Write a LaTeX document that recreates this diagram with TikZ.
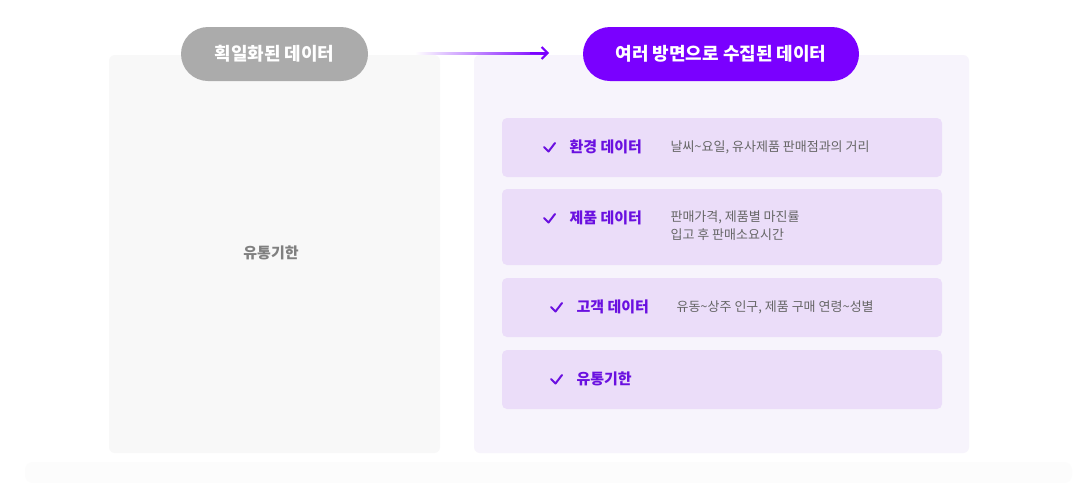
\documentclass[tikz,border=0pt]{standalone}
\usepackage{fontspec}
\setmainfont{Noto Sans CJK KR}
\definecolor{vio}{HTML}{7A00FF}
\definecolor{vtxt}{HTML}{6A10E0}
\definecolor{rowbg}{HTML}{EBDDF9}
\definecolor{lpan}{HTML}{F8F8F8}
\definecolor{rpan}{HTML}{F7F4FC}
\definecolor{gpill}{HTML}{ABABAB}
\definecolor{dtxt}{HTML}{666666}
\usetikzlibrary{arrows.meta}
\tikzset{
 panel/.style={rounded corners=6pt},
 pill/.style={rounded corners=27pt},
 row/.style={fill=rowbg,rounded corners=5pt},
 ttl/.style={anchor=west,text=vtxt,font=\fontsize{15}{18}\selectfont\bfseries},
 dsc/.style={anchor=west,text=dtxt,font=\fontsize{13}{18}\selectfont,align=left},
 chk/.style={draw=vtxt,line width=2pt,line cap=round,line join=round}
}
\begin{document}
\begin{tikzpicture}[x=1pt,y=-1pt]
\useasboundingbox (0,0) rectangle (1079,483);
\fill[white] (0,0) rectangle (1079,483);
\fill[black!1.2,rounded corners=8pt] (25,462) rectangle (1072,483);
\fill[lpan,panel] (109,55) rectangle (440,453);
\fill[rpan,panel] (474,55) rectangle (969,453);
\node[text=gray,font=\fontsize{15}{18}\selectfont\bfseries] (lt) at (271,253) {유통기한};
\node[fill=gpill,pill,minimum width=187pt,minimum height=54pt,text=white,font=\fontsize{18}{20}\selectfont\bfseries] (g) at (274.5,54) {획일화된 데이터};
\node[fill=vio,pill,minimum width=276pt,minimum height=54pt,text=white,font=\fontsize{18}{20}\selectfont\bfseries] (p) at (721,54) {여러 방면으로 수집된 데이터};
\coordinate (a0) at (415,53);
\coordinate (a1) at (549,53);
\shade[left color=white,right color=vio] (415,52) rectangle (545,54.5);
\draw[vio,line width=2pt,-{Straight Barb[length=6pt,width=12pt]}] (530,53) -- (a1);
% rows
\fill[row] (502,118) rectangle (942,177);
\fill[row] (502,189) rectangle (942,265);
\fill[row] (502,278) rectangle (942,337);
\fill[row] (502,350) rectangle (942,409);
\draw[chk] (544,147) -- (548.5,151.5) -- (555,143);
\node[ttl] (t1) at (566,147) {환경 데이터};
\node[dsc] (d1) at (667,147) {날씨\textasciitilde 요일, 유사제품 판매점과의 거리};
\draw[chk] (544,218) -- (548.5,222.5) -- (555,214);
\node[ttl] (t2) at (566,218) {제품 데이터};
\node[dsc] (d2) at (667,226) {판매가격, 제품별 마진률\\입고 후 판매소요시간};
\draw[chk] (551,307) -- (555.5,311.5) -- (562,303);
\node[ttl] (t3) at (573,307) {고객 데이터};
\node[dsc] (d3) at (673,307) {유동\textasciitilde 상주 인구, 제품 구매 연령\textasciitilde 성별};
\draw[chk] (551,379) -- (555.5,383.5) -- (562,375);
\node[ttl] (t4) at (573,379) {유통기한};
\end{tikzpicture}
\end{document}
